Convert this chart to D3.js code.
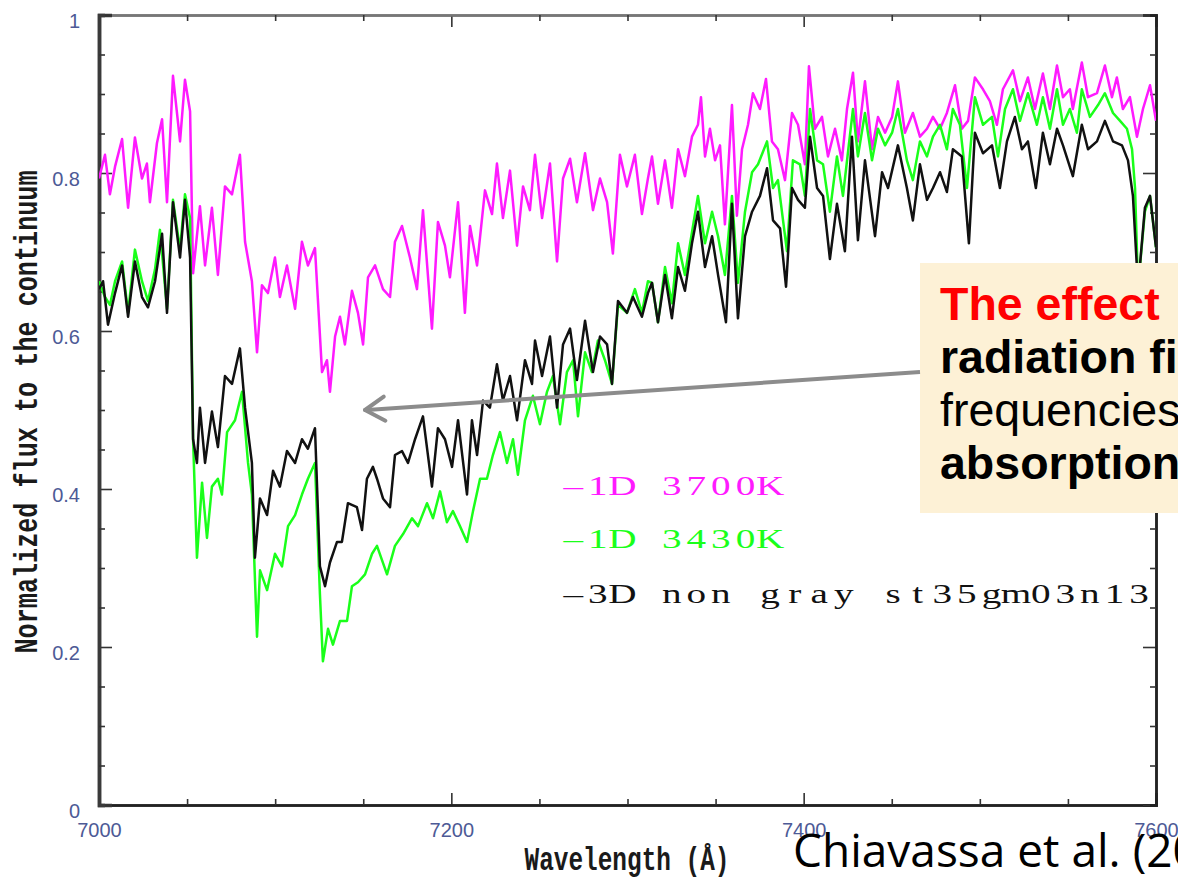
<!DOCTYPE html>
<html>
<head>
<meta charset="utf-8">
<script src="https://cdn.jsdelivr.net/npm/d3@7"></script>
<style>
body { margin: 0; background: #fff; }
svg { display: block; }
</style>
</head>
<body>
<div id="chart"></div>
<script>
// spectra: wavelength (Angstrom) and normalized flux
var wave3700 = [7000,7003.4,7006.2,7009.1,7013.1,7016.5,7020.4,7024.4,7027.2,7028.9,
7032.9,7035.8,7038.6,7042,7046,7048.8,7051.7,7053.4,7057.3,7060.2,
7064.1,7067.5,7071.5,7075.5,7080,7082.9,7086.8,7089.7,7092.5,7095.9,
7099.9,7102.7,7106.7,7111.3,7115.2,7118.6,7122.6,7126.6,7129.4,7131.1,
7134,7136.8,7139.6,7143.6,7147,7149.9,7152.7,7156.7,7161.2,7165.2,
7168,7172,7176.5,7180.5,7183.9,7189,7192.4,7196.4,7199.2,7203.8,
7207.7,7210.6,7214.6,7219.1,7223.1,7225.9,7229.3,7233.3,7237.3,7240.7,
7244.6,7247.5,7251.5,7256,7260,7263.4,7267.4,7271.3,7275.9,7280.4,
7284.4,7288.4,7291.7,7295.7,7299.7,7304.2,7308.2,7311.6,7313.9,7317.3,
7321.3,7325.2,7328.7,7332.6,7336.6,7340,7341.7,7344,7346.8,7349.7,
7352.5,7355.3,7359.3,7362.1,7365,7368.4,7371.2,7375.2,7378.6,7382,
7385.4,7389.4,7393.4,7396.8,7400.7,7403,7406.4,7410.4,7413.8,7417.8,
7421.7,7424.6,7428,7430.8,7434.8,7438.8,7442.2,7446.2,7450.2,7453.5,
7457.5,7462,7466,7470,7473.4,7477.4,7481.3,7485.9,7489.8,7493.3,
7497.2,7501.8,7505.7,7509.7,7513.1,7518.8,7522.8,7527.3,7531.3,7535.8,
7539.8,7543.8,7547.2,7551.1,7552.8,7557.9,7561.4,7566.5,7571,7575,
7577.8,7581.2,7585.2,7589.2,7592.6,7596.6,7600];
var flux3700 = [.793,.823,.773,.808,.843,.756,.845,.793,.812,.763,
.838,.868,.763,.923,.840,.918,.878,.673,.758,.683,
.756,.671,.783,.773,.823,.713,.663,.573,.658,.648,
.693,.643,.683,.628,.713,.683,.705,.548,.563,.523,
.593,.618,.583,.651,.623,.583,.668,.683,.653,.643,
.713,.733,.693,.653,.753,.603,.738,.708,.668,.763,
.623,.733,.683,.778,.748,.812,.743,.803,.708,.783,
.753,.823,.743,.812,.688,.793,.818,.763,.825,.753,
.793,.763,.698,.823,.783,.823,.748,.793,.821,.761,
.816,.756,.830,.796,.846,.861,.896,.821,.856,.816,
.835,.735,.886,.746,.830,.861,.901,.881,.919,.840,
.830,.791,.876,.861,.811,.935,.856,.871,.821,.856,
.816,.881,.927,.840,.916,.830,.871,.851,.871,.916,
.851,.876,.846,.856,.871,.856,.876,.911,.856,.866,
.921,.906,.891,.861,.906,.930,.891,.921,.881,.926,
.881,.936,.896,.906,.881,.940,.896,.901,.936,.896,
.921,.881,.896,.846,.881,.911,.866];

var wave3430 = [7000,7003.4,7006.2,7009.1,7013.1,7016.5,7020.4,7024.4,7027.8,7031.8,
7034.6,7038.6,7042,7046,7048.8,7051.7,7053.4,7055.6,7058.5,7061.3,
7064.1,7067.5,7069.8,7072.7,7077.2,7081.2,7084.6,7086.8,7089.7,7091.4,
7095.4,7099.9,7103.9,7107.3,7111.3,7115.2,7118.6,7122.6,7125.4,7127.1,
7130,7132.8,7136.8,7140.8,7143.6,7147,7151,7155,7157.8,7163.5,
7168,7172.6,7177.7,7181.1,7186.2,7189.6,7193.6,7197.5,7200.9,7204.9,
7208.9,7212.3,7216.3,7220.2,7223.6,7227.6,7231.6,7235,7237.8,7241.8,
7246.3,7250.3,7254.3,7257.7,7261.7,7265.6,7269.1,7271.9,7275.9,7279.8,
7283.2,7287.2,7291.2,7294.6,7299.7,7304.2,7308.2,7311.6,7313.9,7317.3,
7321.3,7325.2,7328.7,7332.6,7336.6,7340,7344,7348,7351.4,7355.3,
7359.3,7362.7,7366.7,7370.7,7374.1,7379.2,7382.6,7385.4,7390.5,7393.9,
7397.9,7400.7,7403.6,7407.6,7411,7414.9,7418.9,7422.3,7428,7430.8,
7434.8,7438.8,7442.2,7446.2,7450.2,7453.5,7458.6,7462,7466,7470,
7473.4,7477.4,7481.3,7484.7,7488.7,7492.7,7497.2,7501.8,7506.9,7510.3,
7514.3,7518.8,7522.8,7527.3,7532.4,7535.8,7539.8,7543.8,7547.2,7551.1,
7555.1,7557.9,7562.5,7567.1,7571,7575.6,7579.6,7583.5,7586.4,7588.1,
7589.8,7593.7,7596.6,7600];
var flux3430 = [.663,.643,.633,.663,.688,.623,.703,.663,.638,.678,
.728,.628,.766,.703,.773,.743,.463,.313,.408,.338,
.403,.413,.393,.472,.487,.523,.433,.393,.213,.297,
.272,.318,.302,.353,.367,.393,.413,.433,.267,.182,
.223,.203,.233,.233,.277,.282,.292,.318,.328,.292,
.328,.343,.363,.353,.382,.363,.397,.358,.372,.353,
.333,.372,.413,.413,.443,.472,.433,.463,.418,.487,
.518,.482,.523,.543,.482,.548,.563,.492,.573,.548,
.588,.563,.533,.633,.623,.653,.623,.663,.661,.611,
.681,.635,.711,.671,.725,.771,.711,.751,.720,.671,
.771,.661,.751,.801,.811,.840,.781,.791,.701,.816,
.811,.771,.881,.816,.811,.751,.821,.771,.881,.821,
.876,.816,.856,.835,.851,.881,.816,.791,.840,.821,
.846,.861,.830,.881,.861,.781,.896,.861,.871,.821,
.881,.906,.866,.901,.861,.896,.856,.906,.861,.881,
.851,.906,.871,.886,.901,.876,.866,.856,.830,.781,
.655,.751,.771,.706];

var wave3D = [7000,7002.3,7005.1,7009.1,7013.1,7016.5,7020.4,7024.4,7027.8,7031.8,
7035.8,7038.6,7042,7046,7048.8,7051.7,7053.4,7055.6,7057.3,7060.2,
7064.1,7067.5,7071.5,7075.5,7080,7082.9,7086.8,7088.5,7091.4,7095.4,
7098.8,7102.7,7106.7,7111.3,7115.2,7118.6,7122.6,7125.4,7128.3,7131.1,
7135.1,7137.9,7141.3,7146.4,7149.3,7152.1,7155.5,7157.8,7161.2,7165.2,
7168,7172,7175.4,7179.4,7183.9,7189,7192.4,7196.4,7200.4,7203.8,
7208.9,7211.7,7214.6,7218,7221.9,7225.9,7229.3,7233.3,7237.3,7241.8,
7245.8,7247.5,7251.5,7256,7260,7263.4,7267.4,7271.3,7275.9,7280.4,
7284.4,7288.4,7291.2,7294.6,7299.7,7303.1,7308.2,7311.6,7313.9,7317.3,
7321.3,7325.2,7328.7,7332.6,7336.6,7340,7344,7348,7351.4,7355.9,
7359.3,7362.7,7366.7,7370.7,7375.2,7379.2,7382.6,7386.6,7390,7393.4,
7396.8,7400.7,7403.6,7407.6,7411,7414.9,7418.9,7423.4,7427.4,7430.8,
7434.8,7440.5,7444.5,7447.9,7453.5,7458.6,7462,7466,7470,7473.4,
7477.4,7481.3,7484.7,7489.8,7493.8,7497.2,7501.8,7506.9,7511.4,7515.4,
7519.9,7523.9,7527.3,7531.8,7535.8,7539.8,7543.8,7547.2,7552.8,7557.9,
7561.4,7566.5,7571,7575.6,7580.7,7584.1,7586.9,7589.8,7593.7,7596.6,
7600];
var flux3D = [.653,.663,.608,.648,.683,.618,.688,.643,.630,.663,
.723,.623,.763,.693,.766,.693,.463,.433,.503,.433,
.498,.453,.543,.533,.578,.503,.433,.313,.388,.367,
.423,.403,.448,.433,.463,.451,.477,.302,.277,.307,
.333,.333,.382,.377,.348,.413,.428,.413,.388,.377,
.443,.448,.433,.463,.492,.403,.477,.463,.428,.487,
.393,.487,.443,.512,.503,.558,.512,.543,.487,.563,
.533,.588,.543,.593,.503,.583,.603,.538,.613,.548,
.593,.583,.533,.638,.623,.643,.618,.648,.661,.611,
.671,.616,.681,.651,.711,.751,.681,.720,.671,.611,
.761,.616,.720,.751,.771,.806,.740,.730,.656,.781,
.766,.756,.846,.781,.771,.691,.761,.701,.846,.715,
.816,.720,.801,.781,.835,.781,.740,.811,.766,.781,
.801,.776,.830,.821,.711,.851,.825,.835,.781,.840,
.871,.830,.840,.781,.851,.811,.856,.835,.796,.861,
.830,.840,.866,.840,.835,.816,.771,.655,.756,.771,
.706];

var seriesNames = ["1D 3700K", "1D 3430K", "3D non gray st35gm03n13"];
var seriesColors = ["#ff1aff", "#1aff1a", "#111111"];
var xMajor = [7000, 7200, 7400, 7600];
var yMajor = [0, 0.2, 0.4, 0.6, 0.8, 1];
var arrowTip = [7151, 0.5];

var width = 1178, height = 878;

var svg = d3.select("#chart")
  .append("svg")
  .attr("width", width)
  .attr("height", height);

var x = d3.scaleLinear().domain([7000, 7600]).range([99, 1156]);
var y = d3.scaleLinear().domain([0, 1]).range([805, 15]);

var xMinor = d3.range(7050, 7600, 50).filter(function(d) { return d % 200 != 0; });
var yMinor = d3.range(0.05, 1, 0.05).filter(function(d) { return Math.abs(d * 5 - Math.round(d * 5)) > 1e-6; });

var tickColor = "#333";
var labelColor = "#4d5a96";

// axes: ticks point inward on all four sides
function styleAxis(g, domainColor, domainWidth) {
  g.select(".domain").attr("stroke", domainColor).attr("stroke-width", domainWidth);
  g.selectAll(".tick line").attr("stroke", tickColor).attr("stroke-width", 1.6);
  g.selectAll(".tick text")
    .attr("fill", labelColor)
    .style("font-family", "'Liberation Sans', Arial, sans-serif")
    .style("font-size", "20px");
}

var gxb = svg.append("g").attr("transform", "translate(0,805)")
  .call(d3.axisBottom(x).tickValues(xMajor).tickSize(-12).tickPadding(18).tickFormat(d3.format("d")));
styleAxis(gxb, "#222", 2.5);
svg.append("g").attr("transform", "translate(0,805)")
  .call(d3.axisBottom(x).tickValues(xMinor).tickSize(-6).tickFormat(""))
  .call(styleAxis, "#222", 2.5);

svg.append("g").attr("transform", "translate(0,15)")
  .call(d3.axisTop(x).tickValues(xMajor).tickSize(-12).tickFormat(""))
  .call(styleAxis, "#777", 2.5);
svg.append("g").attr("transform", "translate(0,15)")
  .call(d3.axisTop(x).tickValues(xMinor).tickSize(-6).tickFormat(""))
  .call(styleAxis, "#777", 2.5);

var gyl = svg.append("g").attr("transform", "translate(99,0)")
  .call(d3.axisLeft(y).tickValues(yMajor).tickSize(-13).tickPadding(19).tickFormat(function(d) { return String(d); }));
styleAxis(gyl, "#3a3a3a", 3.5);
gyl.selectAll(".tick text").attr("dy", "0.62em");
svg.append("g").attr("transform", "translate(99,0)")
  .call(d3.axisLeft(y).tickValues(yMinor).tickSize(-6).tickFormat(""))
  .call(styleAxis, "#3a3a3a", 3.5);

svg.append("g").attr("transform", "translate(1156,0)")
  .call(d3.axisRight(y).tickValues(yMajor).tickSize(-13).tickFormat(""))
  .call(styleAxis, "#222", 2.5);
svg.append("g").attr("transform", "translate(1156,0)")
  .call(d3.axisRight(y).tickValues(yMinor).tickSize(-6).tickFormat(""))
  .call(styleAxis, "#222", 2.5);

// clip for spectra
svg.append("clipPath").attr("id", "plotclip")
  .append("rect").attr("x", 99).attr("y", 15).attr("width", 1057).attr("height", 790);

var line = d3.line()
  .x(function(d) { return x(d[0]); })
  .y(function(d) { return y(d[1]); });

var spectra = [d3.zip(wave3700, flux3700), d3.zip(wave3430, flux3430), d3.zip(wave3D, flux3D)];

svg.append("g").attr("clip-path", "url(#plotclip)")
  .selectAll("path.spec")
  .data(spectra)
  .enter()
  .append("path")
    .attr("class", "spec")
    .attr("fill", "none")
    .attr("stroke", function(d, i) { return seriesColors[i]; })
    .attr("stroke-width", 2.5)
    .attr("stroke-linejoin", "round")
    .attr("d", line);

// axis titles
svg.append("text")
  .attr("transform", "translate(37,412) rotate(-90)")
  .attr("text-anchor", "middle")
  .attr("textLength", 483)
  .attr("lengthAdjust", "spacingAndGlyphs")
  .style("font-family", "'Liberation Mono', 'Courier New', monospace")
  .style("font-weight", "bold")
  .style("font-size", "33px")
  .attr("fill", "#1a1a1a")
  .text("Normalized flux to the continuum");

svg.append("text")
  .attr("x", 627)
  .attr("y", 870)
  .attr("text-anchor", "middle")
  .attr("textLength", 205)
  .attr("lengthAdjust", "spacingAndGlyphs")
  .style("font-family", "'Liberation Mono', 'Courier New', monospace")
  .style("font-weight", "bold")
  .style("font-size", "33px")
  .attr("fill", "#1a1a1a")
  .text("Wavelength (\u00c5)");

// legend: widened serif glyphs laid out on a fixed character grid
var legendY = [495, 548, 603];
var cell = 24.6, stretch = 1.4;
svg.selectAll("text.legend")
  .data(seriesNames)
  .enter()
  .append("text")
    .attr("class", "legend")
    .attr("transform", function(d, i) { return "translate(561," + legendY[i] + ") scale(" + stretch + ",1)"; })
    .attr("x", function(d) {
      return d3.range(d.length + 1).map(function(k) { return (cell * (k + 0.5) / stretch).toFixed(2); }).join(" ");
    })
    .attr("y", 0)
    .attr("text-anchor", "middle")
    .style("font-family", "'Liberation Serif', 'Times New Roman', serif")
    .style("font-size", "28px")
    .attr("fill", function(d, i) { return seriesColors[i]; })
    .text(function(d) { return "\u2013" + d; });

// annotation box with arrow
svg.append("rect")
  .attr("x", 920).attr("y", 263)
  .attr("width", 270).attr("height", 250)
  .attr("fill", "#fdf1d6");

var tx = x(arrowTip[0]), ty = y(arrowTip[1]);
var sx = 920, sy = 372;
var ang = Math.atan2(sy - ty, sx - tx);
svg.append("line")
  .attr("x1", sx).attr("y1", sy).attr("x2", tx + 2).attr("y2", ty)
  .attr("stroke", "#8c8c8c").attr("stroke-width", 4);
[-0.55, 0.55].forEach(function(a) {
  svg.append("line")
    .attr("x1", tx).attr("y1", ty)
    .attr("x2", tx + 23 * Math.cos(ang + a)).attr("y2", ty + 23 * Math.sin(ang + a))
    .attr("stroke", "#8c8c8c").attr("stroke-width", 4).attr("stroke-linecap", "round");
});

var noteLines = [
  {t: "The effect", c: "#ff0000", w: "bold"},
  {t: "radiation field", c: "#000", w: "bold"},
  {t: "frequencies", c: "#000", w: "normal"},
  {t: "absorption", c: "#000", w: "bold"}
];
svg.selectAll("text.note")
  .data(noteLines)
  .enter()
  .append("text")
    .attr("class", "note")
    .attr("x", 940)
    .attr("y", function(d, i) { return 320 + i * 53; })
    .style("font-family", "'Liberation Sans', Arial, sans-serif")
    .style("font-size", "46.5px")
    .style("font-weight", function(d) { return d.w; })
    .attr("fill", function(d) { return d.c; })
    .text(function(d) { return d.t; });

// citation
svg.append("text")
  .attr("x", 793)
  .attr("y", 867)
  .style("font-family", "'Open Sans', sans-serif")
  .style("font-size", "46px")
  .attr("fill", "#000")
  .text("Chiavassa et al. (2011)");
</script>
</body>
</html>
